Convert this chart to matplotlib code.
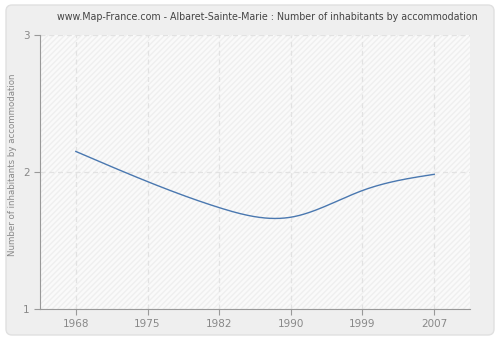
import numpy as np
import matplotlib
matplotlib.use("Agg")
import matplotlib.pyplot as plt
from matplotlib.patches import FancyBboxPatch, Rectangle

years = ["1968", "1975", "1982", "1990", "1999", "2007"]
values = [2.15, 1.93, 1.74, 1.67, 1.865, 1.983]
yticks = [1, 2, 3]
title = "www.Map-France.com - Albaret-Sainte-Marie : Number of inhabitants by accommodation"
ylabel = "Number of inhabitants by accommodation"


def natural_spline(x, y, n=300):
    x = np.asarray(x, float); y = np.asarray(y, float)
    k = len(x)
    h = np.diff(x)
    A = np.zeros((k, k)); b = np.zeros(k)
    A[0, 0] = A[-1, -1] = 1
    for i in range(1, k - 1):
        A[i, i - 1] = h[i - 1]; A[i, i] = 2 * (h[i - 1] + h[i]); A[i, i + 1] = h[i]
        b[i] = 3 * ((y[i + 1] - y[i]) / h[i] - (y[i] - y[i - 1]) / h[i - 1])
    c = np.linalg.solve(A, b)
    xs = np.linspace(x[0], x[-1], n)
    ys = np.empty_like(xs)
    for j, t in enumerate(xs):
        i = min(np.searchsorted(x, t, side="right") - 1, k - 2)
        d = t - x[i]
        bi = (y[i + 1] - y[i]) / h[i] - h[i] * (2 * c[i] + c[i + 1]) / 3
        di = (c[i + 1] - c[i]) / (3 * h[i])
        ys[j] = y[i] + bi * d + c[i] * d ** 2 + di * d ** 3
    return xs, ys


plt.rcParams["font.family"] = ["DejaVu Sans"]
fig = plt.figure(figsize=(5, 3.4), dpi=100)
fig.patch.set_facecolor("white")

bgax = fig.add_axes([0, 0, 1, 1], zorder=-10)
bgax.set_xlim(0, 500); bgax.set_ylim(340, 0); bgax.axis("off")
bgax.add_patch(FancyBboxPatch((6, 5), 488, 330, boxstyle="round,pad=0,rounding_size=6",
                              facecolor="#efefef", edgecolor="#e0e0e0", linewidth=1))

ax = fig.add_axes([40 / 500, 31 / 340, 430 / 500, 274 / 340])
ax.set_facecolor("#fafafa")
ax.add_patch(Rectangle((0, 0), 1, 1, transform=ax.transAxes, facecolor="none",
                       edgecolor="#efefef", hatch="//////", linewidth=0, zorder=0))

xpos = np.arange(len(years))
xs, ys = natural_spline(xpos, values)
ax.plot(xs, ys, color="#4a78b0", linewidth=1.0, zorder=3)

ax.set_xlim(-0.5, 5.5)
ax.set_ylim(1, 3)
ax.set_xticks(xpos)
ax.set_xticklabels(years)
ax.set_yticks(yticks)
ax.grid(True, color="#e2e2e2", linestyle=(0, (4, 3)), linewidth=0.9)
ax.set_axisbelow(True)
for s in ["top", "right"]:
    ax.spines[s].set_visible(False)
for s in ["left", "bottom"]:
    ax.spines[s].set_color("#999999")
ax.tick_params(colors="#999999", labelcolor="#888888", labelsize=7.5, length=4, width=0.8)

t = fig.text(267 / 500, 1 - 17 / 340, title, ha="center", va="center", fontsize=8, color="#444444")
yl = fig.text(13 / 500, 1 - 165 / 340, ylabel, ha="center", va="center", rotation=90,
              fontsize=7.5, color="#888888")
fig.canvas.draw()
t.set_fontsize(8 * 425 / t.get_window_extent().width)
yl.set_fontsize(7.5 * 182 / yl.get_window_extent().height)

fig.savefig("out.png", dpi=100, facecolor=fig.get_facecolor())
